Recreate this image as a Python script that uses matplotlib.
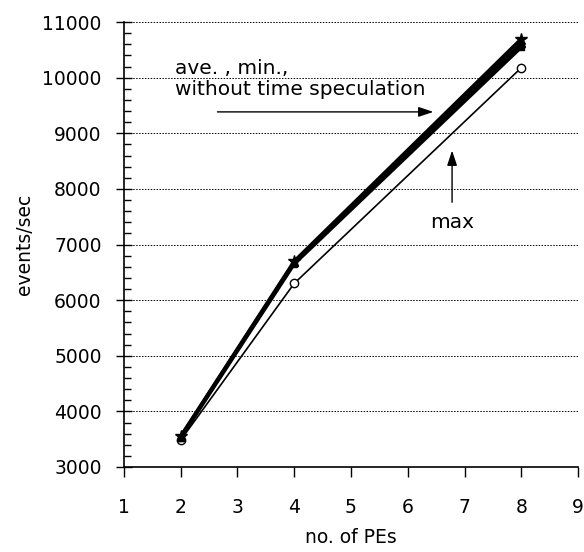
import matplotlib.pyplot as plt
from matplotlib.ticker import MultipleLocator

plt.rcParams['font.family'] = ['DejaVu Sans']

pes = [2, 4, 8]
max_rate = [3480, 6300, 10180]
ave_rate = [3520, 6650, 10550]
min_rate = [3540, 6680, 10620]
nospec_rate = [3550, 6700, 10700]

fig = plt.figure(figsize=(5.84, 5.52), dpi=100)
ax = fig.add_axes([0.212, 0.154, 0.778, 0.806])

ax.plot(pes, max_rate, color="black", lw=1.2, marker="o", ms=6, mfc="white", mew=1)
ax.plot(pes, ave_rate, color="black", lw=2.5, marker="s", ms=5)
ax.plot(pes, min_rate, color="black", lw=2.5, marker="^", ms=6)
ax.plot(pes, nospec_rate, color="black", lw=2.5, marker="*", ms=9)

ax.set_xlim(1, 9)
ax.set_ylim(3000, 11000)
ax.xaxis.set_major_locator(MultipleLocator(1))
ax.yaxis.set_major_locator(MultipleLocator(1000))
ax.yaxis.set_minor_locator(MultipleLocator(200))
ax.tick_params(axis="y", which="major", direction="inout", length=12, width=1, labelsize=13.5, pad=10)
ax.tick_params(axis="y", which="minor", direction="in", length=5, width=1)
ax.tick_params(axis="x", which="major", direction="out", length=7, width=1, labelsize=13.5, pad=15)
ax.spines["top"].set_visible(False)
ax.spines["right"].set_visible(False)
ax.spines["left"].set_linewidth(1.2)
ax.spines["bottom"].set_linewidth(1.2)
ax.grid(axis="y", which="major", linestyle=(0, (1.5, 1.5)), color="black", lw=0.7)
ax.set_axisbelow(True)

# labels
ax.set_xlabel("no. of PEs", fontsize=13.5, labelpad=8)
ax.set_ylabel("events/sec", fontsize=13.5, labelpad=6)

ax.text(1.91, 10160, "ave. , min.,", fontsize=14.5, va="center")
ax.text(1.91, 9780, "without time speculation", fontsize=14.5, va="center")
ax.annotate("", xy=(6.5, 9385), xytext=(2.6, 9385),
            arrowprops=dict(arrowstyle="-|>,head_length=0.9,head_width=0.3",
                            color="black", lw=1))
ax.text(6.78, 7390, "max", fontsize=14.5, ha="center", va="center")
ax.annotate("", xy=(6.78, 8740), xytext=(6.78, 7710),
            arrowprops=dict(arrowstyle="-|>,head_length=0.9,head_width=0.3",
                            color="black", lw=1))

fig.savefig("out.png", dpi=100)
